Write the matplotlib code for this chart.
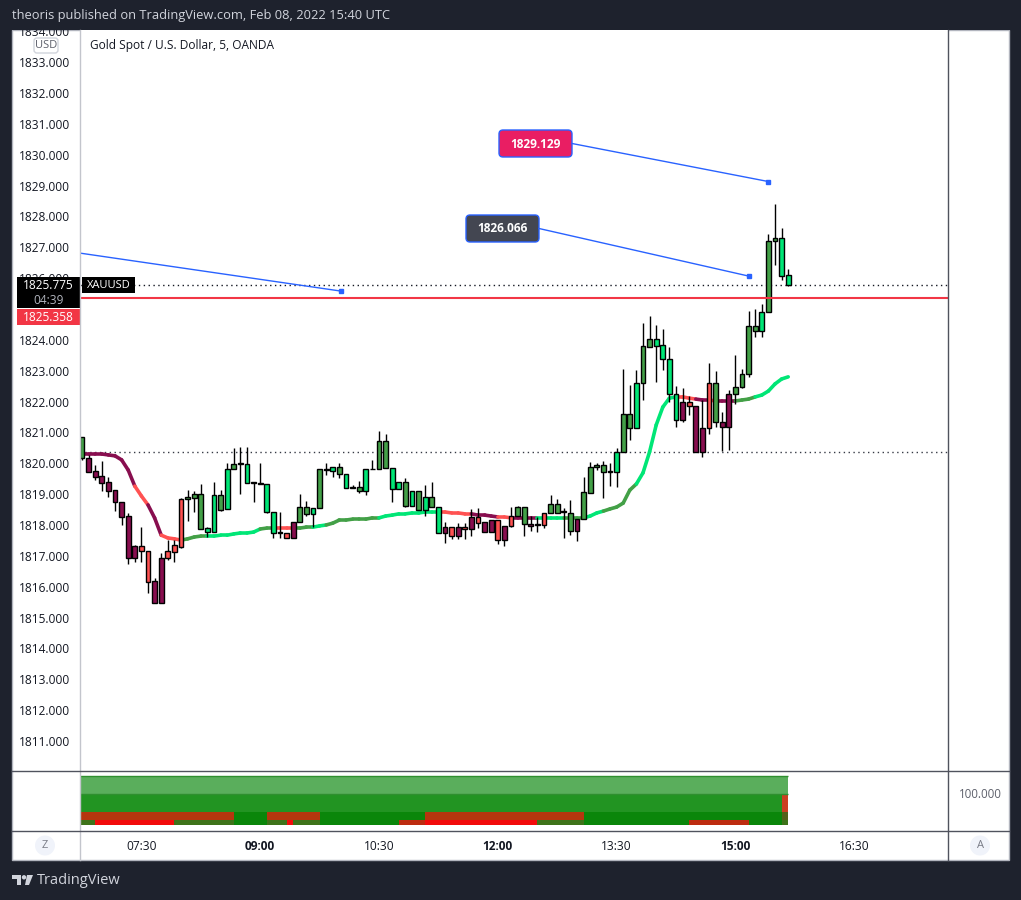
import matplotlib
matplotlib.use("Agg")

import numpy as np
import matplotlib.pyplot as plt
from matplotlib.collections import LineCollection
from matplotlib.patches import Rectangle, FancyBboxPatch, Polygon, Circle

plt.rcParams['font.family'] = ['Open Sans', 'DejaVu Sans']

W, H = 1021, 900

# ---------------- data (XAUUSD 5 min, OANDA) ----------------
start_minutes = 6 * 60 + 45
bar_minutes = 5

opens = [1820.17, 1820.17, 1819.75, 1819.59, 1819.39, 1819.13, 1818.74, 1818.29, 1816.93, 1817.32,
         1817.16, 1816.19, 1815.47, 1816.93, 1817.13, 1817.29, 1818.84, 1818.87, 1819.00, 1817.77,
         1817.77, 1818.97, 1818.52, 1819.81, 1819.98, 1819.98, 1819.36, 1819.33, 1819.33, 1818.42,
         1817.74, 1817.74, 1817.58, 1818.10, 1818.36, 1818.55, 1818.55, 1819.78, 1819.75, 1819.88,
         1819.65, 1819.20, 1819.23, 1819.10, 1819.81, 1819.81, 1820.72, 1819.85, 1819.17, 1819.39,
         1818.61, 1819.10, 1818.49, 1818.91, 1818.58, 1817.74, 1817.93, 1817.64, 1817.93, 1817.87,
         1818.26, 1818.10, 1817.77, 1818.16, 1817.51, 1817.97, 1818.29, 1818.58, 1818.03, 1818.00,
         1818.00, 1818.39, 1818.68, 1818.42, 1818.39, 1817.81, 1818.19, 1819.04, 1819.88, 1819.94,
         1819.72, 1819.72, 1820.36, 1821.14, 1821.14, 1822.60, 1823.77, 1824.03, 1823.83, 1823.38,
         1822.24, 1821.40, 1821.99, 1821.86, 1820.36, 1821.14, 1822.60, 1821.34, 1821.18, 1822.24,
         1822.47, 1822.89, 1824.45, 1824.29, 1824.90, 1827.20, 1827.30, 1826.10]
highs = [1820.85, 1820.27, 1819.94, 1820.07, 1819.56, 1819.13, 1818.74, 1818.39, 1817.35, 1817.93,
         1817.16, 1816.28, 1817.09, 1817.51, 1817.51, 1818.87, 1819.13, 1819.10, 1819.33, 1817.93,
         1819.39, 1819.13, 1820.01, 1820.49, 1820.53, 1820.53, 1819.39, 1820.01, 1819.33, 1818.42,
         1818.42, 1817.74, 1818.10, 1819.00, 1818.78, 1818.55, 1819.81, 1820.01, 1819.88, 1820.01,
         1819.65, 1819.30, 1819.43, 1819.81, 1820.11, 1821.04, 1820.95, 1819.85, 1819.39, 1819.52,
         1819.10, 1819.10, 1819.30, 1819.39, 1818.58, 1818.10, 1817.93, 1818.06, 1818.06, 1818.52,
         1818.55, 1818.10, 1818.16, 1818.16, 1817.97, 1818.58, 1818.61, 1818.58, 1818.29, 1818.26,
         1818.39, 1818.97, 1818.84, 1818.55, 1818.81, 1818.19, 1819.56, 1820.04, 1820.01, 1820.07,
         1820.01, 1820.49, 1823.05, 1822.54, 1823.02, 1824.54, 1824.77, 1824.48, 1824.35, 1823.77,
         1822.50, 1822.44, 1822.18, 1821.86, 1822.05, 1823.25, 1822.99, 1821.66, 1822.37, 1823.51,
         1823.05, 1824.93, 1825.00, 1825.16, 1827.43, 1828.40, 1827.62, 1826.29]
lows = [1820.11, 1819.72, 1819.46, 1819.10, 1818.91, 1818.45, 1818.00, 1816.74, 1816.80, 1816.80,
        1815.80, 1815.47, 1815.47, 1816.87, 1816.80, 1817.25, 1818.13, 1818.42, 1817.87, 1817.61,
        1817.77, 1818.45, 1818.52, 1819.81, 1819.00, 1819.36, 1818.74, 1819.33, 1818.39, 1817.58,
        1817.58, 1817.58, 1817.58, 1818.10, 1818.29, 1817.93, 1818.55, 1819.62, 1819.55, 1819.52,
        1819.20, 1819.20, 1819.04, 1818.97, 1819.81, 1819.81, 1819.85, 1818.74, 1819.17, 1818.58,
        1818.61, 1818.49, 1818.29, 1818.58, 1817.74, 1817.42, 1817.55, 1817.55, 1817.55, 1817.64,
        1817.90, 1817.77, 1817.77, 1817.38, 1817.32, 1817.93, 1818.29, 1817.64, 1817.81, 1817.77,
        1817.90, 1818.39, 1818.39, 1817.58, 1817.68, 1817.48, 1818.19, 1819.04, 1819.78, 1818.87,
        1819.26, 1819.23, 1820.36, 1820.75, 1821.14, 1822.05, 1823.77, 1822.63, 1823.02, 1821.99,
        1821.18, 1821.34, 1821.56, 1820.36, 1820.20, 1820.95, 1821.18, 1820.40, 1820.43, 1821.92,
        1822.44, 1822.79, 1824.09, 1824.09, 1824.90, 1826.42, 1825.94, 1825.74]
closes = [1820.85, 1819.72, 1819.55, 1819.36, 1819.10, 1818.74, 1818.26, 1816.93, 1817.32, 1817.16,
          1816.15, 1815.47, 1816.93, 1817.16, 1817.35, 1818.84, 1818.91, 1819.00, 1817.87, 1817.90,
          1818.97, 1818.49, 1819.81, 1819.98, 1819.98, 1819.36, 1819.36, 1819.33, 1818.42, 1817.74,
          1817.74, 1817.58, 1818.10, 1818.58, 1818.58, 1818.36, 1819.81, 1819.78, 1819.88, 1819.65,
          1819.20, 1819.23, 1819.10, 1819.81, 1819.81, 1820.72, 1819.85, 1819.17, 1819.39, 1818.61,
          1819.10, 1818.49, 1818.91, 1818.58, 1817.74, 1817.93, 1817.64, 1817.93, 1817.87, 1818.26,
          1818.06, 1817.77, 1818.16, 1817.51, 1817.97, 1818.29, 1818.58, 1818.03, 1817.97, 1818.00,
          1818.39, 1818.68, 1818.39, 1818.42, 1817.81, 1818.19, 1819.07, 1819.88, 1819.94, 1819.72,
          1819.72, 1820.36, 1821.60, 1821.60, 1822.60, 1823.80, 1824.03, 1823.80, 1823.38, 1822.24,
          1821.40, 1821.99, 1821.86, 1820.36, 1821.14, 1822.60, 1821.34, 1821.18, 1822.24, 1822.47,
          1822.89, 1824.45, 1824.29, 1824.90, 1827.20, 1827.30, 1826.07, 1825.775]

# bar colouring state: M maroon, S salmon, G green, B bright green
candle_state = ("GMMMMMMMMS" "SMMSSSGGGB" "BGBGGBGGBB" "GSMGGBGGBG" "BBGBGGGBBG"
                "BGBGBMSMSM" "SMMSMSGGMM" "SGGGGMGGGG" "GBGGBGGBBB" "BMSMMSGMMG" "GGGBGGBB")

ma_values = [1820.30, 1820.30, 1820.30, 1820.30, 1820.27, 1820.24, 1820.11, 1819.78, 1819.26, 1818.94,
             1818.65, 1818.23, 1817.67, 1817.58, 1817.55, 1817.51, 1817.55, 1817.61, 1817.64, 1817.64,
             1817.64, 1817.67, 1817.67, 1817.71, 1817.74, 1817.74, 1817.77, 1817.87, 1817.90, 1817.90,
             1817.90, 1817.90, 1817.90, 1817.90, 1817.93, 1817.93, 1817.97, 1818.00, 1818.06, 1818.16,
             1818.16, 1818.19, 1818.19, 1818.19, 1818.23, 1818.23, 1818.29, 1818.32, 1818.36, 1818.36,
             1818.39, 1818.39, 1818.42, 1818.42, 1818.42, 1818.42, 1818.39, 1818.39, 1818.36, 1818.36,
             1818.32, 1818.32, 1818.29, 1818.26, 1818.26, 1818.23, 1818.23, 1818.23, 1818.23, 1818.23,
             1818.23, 1818.23, 1818.23, 1818.23, 1818.23, 1818.23, 1818.23, 1818.29, 1818.39, 1818.45,
             1818.52, 1818.58, 1818.71, 1819.13, 1819.33, 1819.69, 1820.37, 1821.24, 1821.82, 1822.11,
             1822.15, 1822.15, 1822.11, 1822.08, 1822.05, 1822.05, 1822.02, 1822.02, 1822.02, 1822.02,
             1822.05, 1822.08, 1822.15, 1822.21, 1822.34, 1822.57, 1822.73, 1822.80]
ma_runs = [("M", 8), ("S", 2), ("M", 2), ("S", 3), ("G", 4), ("B", 8), ("G", 2), ("S", 3), ("G", 3),
           ("B", 2), ("G", 8), ("B", 9), ("S", 5), ("M", 4), ("S", 2), ("M", 4), ("B", 4), ("G", 3),
           ("B", 3), ("G", 5), ("B", 6), ("S", 3), ("M", 2), ("S", 1), ("M", 3), ("G", 3), ("B", 6)]

last_price = 1825.775
countdown = "04:39"
alert_price = 1825.358
prev_close = 1820.37

note_bars = [101, 104]
note_prices = [1826.066, 1829.129]
trend_bars = [-0.3, 39.2]
trend_prices = [1826.81, 1825.58]

price_ticks = list(range(1811, 1835))
hidden_ticks = [1825]     # covered by the price labels on the axis
time_labels = ["07:30", "09:00", "10:30", "12:00", "13:30", "15:00", "16:30"]

# indicator rows: (start bar, end bar, state)
row1_runs = [(-1, 107, "g")]
row2_runs = [(-1, 106, "g"), (106, 107, "r")]
row3_runs = [(-1, 23, "r"), (23, 28, "g"), (28, 36, "r"), (36, 52, "g"), (52, 76, "r"),
             (76, 106, "g"), (106, 107, "o")]
row4_runs = [(-1, 2, "o"), (2, 14, "R"), (14, 23, "o"), (23, 28, "g"), (28, 31, "o"), (31, 32, "R"),
             (32, 36, "o"), (36, 48, "g"), (48, 52, "r"), (52, 69, "R"), (69, 76, "o"), (76, 92, "g"),
             (92, 101, "r"), (101, 106, "g"), (106, 107, "o")]

# ---------------- styling ----------------
state_col = {"M": "#880e4f", "S": "#ff5252", "G": "#43a047", "B": "#00e676"}
dark_bg = "#1e222d"
text_col = "#131722"
bar_px = 6.6          # pixels per bar
x0_px = 82            # pixel of bar 0
y_top, y_bot = 1834.04, 1810.06


def fig_rect(l, t, r, b):
    return [l / W, 1 - b / H, (r - l) / W, (b - t) / H]


fig = plt.figure(figsize=(W / 100, H / 100), dpi=100, facecolor=dark_bg)

bg = fig.add_axes([0, 0, 1, 1], zorder=-5)
bg.set_xlim(0, W)
bg.set_ylim(H, 0)
bg.axis("off")
bg.add_patch(Rectangle((12, 30), 997, 830, facecolor="white", edgecolor="#b2b5be", lw=1))

ax = fig.add_axes(fig_rect(80, 30, 948, 770), zorder=1)
ax2 = fig.add_axes(fig_rect(80, 771, 948, 831), zorder=1)
xlim = ((80 - x0_px) / bar_px, (948 - x0_px) / bar_px)

# ---------------- candles ----------------
n = len(closes)
x = np.arange(n)
o = np.array(opens)
c = np.array(closes)
bottoms = np.minimum(o, c)
heights = np.maximum(np.abs(c - o), 0.02)
colors = [state_col[s] for s in candle_state]

ma_states = "".join(s * k for s, k in ma_runs)
segs = [[(i, ma_values[i]), (i + 1, ma_values[i + 1])] for i in range(n - 1)]
lc = LineCollection(segs, colors=[state_col[s] for s in ma_states[:n - 1]], linewidths=2.6,
                    capstyle="round", zorder=2)
ax.add_collection(lc)

ax.vlines(x, lows, highs, color="black", lw=1, zorder=3)
ax.bar(x, heights, bottom=bottoms, width=0.72, color=colors, edgecolor="black", linewidth=1, zorder=4)

ax.axhline(prev_close, color="#363a45", lw=1, ls=(0, (1, 2.5)), zorder=1)
ax.axhline(last_price, color="#131722", lw=1, ls=(0, (1, 2.5)), zorder=1)
ax.axhline(alert_price, color="#f23645", lw=1.5, zorder=5)

ax.plot(trend_bars, trend_prices, color="#2962ff", lw=1, zorder=6)
ax.plot(trend_bars[-1:], trend_prices[-1:], "s", color="#2962ff", ms=3.5, zorder=6)

ax.set_xlim(*xlim)
ax.set_ylim(y_bot, y_top)
ax.set_xticks([])
ax.set_yticks(price_ticks)
ax.set_yticklabels(["" if v in hidden_ticks else f"{v:.3f}" for v in price_ticks])
ax.tick_params(axis="y", length=0, pad=7, labelsize=8.6, labelcolor=text_col)
for s in ax.spines.values():
    s.set_visible(False)

# ---------------- indicator panel ----------------
rows = [(row1_runs, 37, 18, {"g": "#5aae5c"}),
        (row2_runs, 19.5, 17.5, {"g": "#229422", "r": "#cc3f22"}),
        (row3_runs, 11, 8.5, {"g": "#0a860a", "r": "#b5360e", "o": "#55601a"}),
        (row4_runs, 6, 5, {"g": "#0a860a", "r": "#bd2c10", "R": "#f20b0b", "o": "#3e731a"})]
for runs, yb, hgt, cmap in rows:
    for a, b, st in runs:
        ax2.broken_barh([(a, b - a)], (yb, hgt), facecolors=cmap[st], edgecolor="none")
ax2.hlines([55, 37], -1, 107, color="#2f8f2f", lw=1)
ax2.set_xlim(*xlim)
ax2.set_ylim(0, 60)
tick_bars = [((int(t[:2]) * 60 + int(t[3:])) - start_minutes) / bar_minutes for t in time_labels]
ax2.set_xticks(tick_bars)
ax2.set_xticklabels(time_labels)
ax2.set_yticks([])
ax2.tick_params(axis="x", length=0, pad=6.5, labelsize=8.6, labelcolor=text_col)
for lbl in ax2.get_xticklabels():
    if lbl.get_text() in ("09:00", "12:00", "15:00"):
        lbl.set_fontweight("bold")
for s in ax2.spines.values():
    s.set_visible(False)

# ---------------- overlay (labels, frame) ----------------
fg = fig.add_axes([0, 0, 1, 1], zorder=10)
fg.set_xlim(0, W)
fg.set_ylim(H, 0)
fg.axis("off")
fg.patch.set_alpha(0)


def to_px(xv, yv):
    X, Y = ax.transData.transform((xv, yv))
    return X, H - Y


fg.add_patch(Rectangle((0, 0), W, 30, facecolor=dark_bg, edgecolor="none"))
fg.text(12, 15, "theoris published on TradingView.com, Feb 08, 2022 15:40 UTC", color="#d1d4dc",
        fontsize=9.3, va="center", ha="left")

# frame lines
fg.plot([80, 80], [30, 860], color="#c3c5cc", lw=1)
fg.plot([948, 948], [30, 860], color="#50535e", lw=1)
fg.plot([12, 1009], [770.5, 770.5], color="#50535e", lw=1)
fg.plot([12, 1009], [831, 831], color="#50535e", lw=1)

fg.text(90, 45, "Gold Spot / U.S. Dollar, 5, OANDA", color=text_col, fontsize=8.6, va="center")
fg.add_patch(FancyBboxPatch((34, 38), 24, 15, boxstyle="round,pad=0,rounding_size=3",
                            facecolor="white", edgecolor="#d1d4dc", lw=1))
fg.text(46, 45.5, "USD", color="#5d606b", fontsize=8, ha="center", va="center")

# price labels on the axis
_, ly = to_px(0, last_price)
fg.add_patch(Rectangle((17, ly - 8), 63, 31, facecolor="black", edgecolor="none"))
fg.text(48.5, ly, f"{last_price:.3f}", color="white", fontsize=8.6, ha="center", va="center")
fg.text(48.5, ly + 15, countdown, color="#b2b5be", fontsize=8.6, ha="center", va="center")
fg.add_patch(Rectangle((17, ly + 24), 63, 16, facecolor="#f23645", edgecolor="none"))
fg.text(48.5, ly + 32, f"{alert_price:.3f}", color="white", fontsize=8.6, ha="center", va="center")
fg.add_patch(Rectangle((82, ly - 8), 53, 16, facecolor="black", edgecolor="none"))
fg.text(108.5, ly, "XAUUSD", color="white", fontsize=8, ha="center", va="center")

# price notes
note_boxes = [((466, 215), "#434651"), ((499, 130), "#e91e63")]
for bar_i, price, ((bx, by), fc) in zip(note_bars, note_prices, note_boxes):
    ax_, ay_ = to_px(bar_i, price)
    fg.plot([bx + 73, ax_], [by + 13.5, ay_], color="#2962ff", lw=1)
    fg.plot([ax_], [ay_], "s", color="#2962ff", ms=3.5)
    fg.add_patch(FancyBboxPatch((bx, by), 73, 27, boxstyle="round,pad=0,rounding_size=4",
                                facecolor=fc, edgecolor="#2962ff", lw=1))
    fg.text(bx + 36.5, by + 14, f"{price:.3f}", color="white", fontsize=8.6, fontweight="bold",
            ha="center", va="center")

fg.text(980, 795, "100.000", color="#5d606b", fontsize=8.3, ha="center", va="center")

for cx, letter in ((45, "Z"), (980, "A")):
    fg.add_patch(Circle((cx, 845.5), 10, facecolor="#f0f3fa", edgecolor="none"))
    fg.text(cx, 846, letter, color="#787b86", fontsize=8, ha="center", va="center")

# footer logo
logo = "#d1d4dc"
fg.add_patch(Polygon([(12, 875), (21, 875), (21, 885), (17, 885), (17, 879), (12, 879)],
                     closed=True, facecolor=logo, edgecolor="none"))
fg.add_patch(Circle((24, 877.3), 2.2, facecolor=logo, edgecolor="none"))
fg.add_patch(Polygon([(27, 875), (33, 875), (29, 885), (25, 885)], closed=True,
                     facecolor=logo, edgecolor="none"))
fg.text(37, 881, "TradingView", color=logo, fontsize=10.5, ha="left", va="center")

fig.savefig("out.png", dpi=100, facecolor=dark_bg)
